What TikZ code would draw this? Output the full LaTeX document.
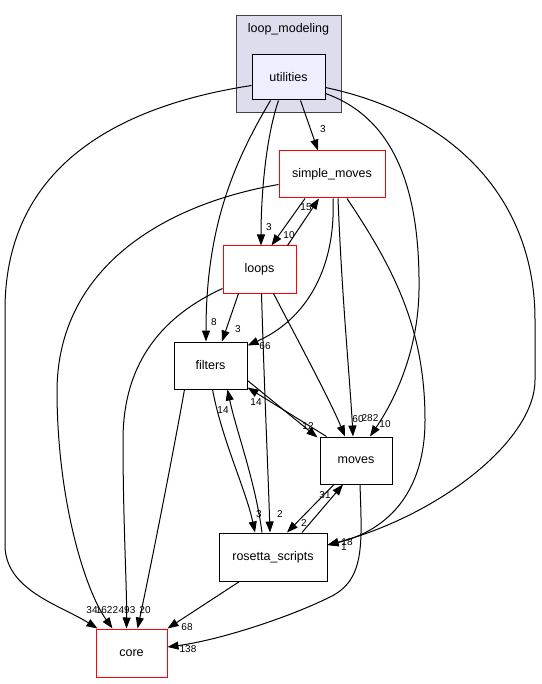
\documentclass[tikz,border=0pt]{standalone}
\usepackage{fontspec}
\setmainfont{Liberation Sans}
\usetikzlibrary{arrows.meta, calc}

\definecolor{clusterfill}{HTML}{DDDDEE}
\definecolor{clusterline}{HTML}{444444}
\definecolor{curfill}{HTML}{EEEEFF}

\begin{document}
\begin{tikzpicture}[x=1pt, y=-1pt, >={Triangle[length=11pt, width=8pt]}, line width=1pt]
    \tikzstyle{dir}=[draw, fill=white, minimum height=47pt, inner sep=0pt, font=\fontsize{12.5}{14}\selectfont]
    \tikzstyle{rdir}=[dir, draw=red]
    \tikzstyle{num}=[inner sep=0pt, font=\fontsize{10}{11}\selectfont]
    \tikzstyle{dep}=[->]

    \useasboundingbox (0,0) rectangle (541,684);

    % cluster
    \node[draw=clusterline, fill=clusterfill, minimum width=105pt, minimum height=97pt] (lm) at (288.5,64.5) {};
    \node[font=\fontsize{12.5}{14}\selectfont] (lmtitle) at (288.5,29) {loop\_modeling};

    \node[dir, fill=curfill, minimum width=73pt, minimum height=45pt] (utilities) at (288.5,77.5) {utilities};
    \node[rdir, minimum width=106pt] (simple) at (332,174.5) {simple\_moves};
    \node[rdir, minimum width=73pt] (loops) at (259.5,269.5) {loops};
    \node[dir, minimum width=73pt] (filters) at (210.5,365.5) {filters};
    \node[dir, minimum width=72pt] (moves) at (356,460.5) {moves};
    \node[dir, minimum width=108pt, minimum height=48pt] (rosetta) at (273,557) {rosetta\_scripts};
    \node[rdir, minimum width=71pt, minimum height=48pt] (core) at (131.5,653) {core};

    % utilities
    \draw[dep] ($(utilities.west)+(0,8)$) .. controls (105,108) and (5,175) .. (5,310) -- (5,545) .. controls (5,590) and (60,605) .. ($(core.north west)+(2,0)$);
    \draw[dep] ($(utilities.south)+(12,0)$) -- ($(simple.north)+(-14,0)$);
    \draw[dep] ($(utilities.south)+(-10,0)$) .. controls (265,140) and (261,200) .. ($(loops.north)+(1.5,0)$);
    \draw[dep] ($(utilities.south)+(-18,0)$) .. controls (232,165) and (206,230) .. ($(filters.north)+(-4.5,0)$);
    \draw[dep] ($(utilities.east)+(0,16)$) .. controls (400,120) and (420,200) .. (419,290) .. controls (418,360) and (388,410) .. ($(moves.north)+(14,0)$);
    \draw[dep] ($(utilities.east)+(0,10)$) .. controls (455,115) and (535,200) .. (535,320) -- (535,380) .. controls (535,440) and (440,515) .. ($(rosetta.east)+(0,-12)$);

    % simple_moves
    \draw[dep] ($(simple.west)+(0,10)$) .. controls (160,205) and (58,270) .. (57,390) .. controls (57,500) and (85,590) .. ($(core.north west)+(17,0)$);
    \draw[dep] ($(simple.south)+(-27,0)$) -- ($(loops.north)+(12,0)$);
    \draw[dep] ($(simple.south)+(1,0)$) .. controls (336,270) and (305,320) .. ($(filters.east)+(0,-20)$);
    \draw[dep] ($(simple.south)+(6,0)$) .. controls (342,300) and (350,380) .. ($(moves.north)+(-3,0)$);
    \draw[dep] ($(simple.south)+(15,0)$) .. controls (395,270) and (425,330) .. (425,420) .. controls (425,490) and (390,530) .. ($(rosetta.east)+(0,-12)$);

    % loops
    \draw[dep] ($(loops.north)+(28,0)$) -- ($(simple.south)+(-13,0)$);
    \draw[dep] ($(loops.west)+(0,19)$) .. controls (165,315) and (123,360) .. (123,440) .. controls (123,520) and (127,590) .. ($(core.north west)+(31,0)$);
    \draw[dep] ($(loops.south)+(-21,0)$) -- ($(filters.north)+(11.5,0)$);
    \draw[dep] ($(loops.south)+(14,0)$) .. controls (295,335) and (330,400) .. ($(moves.north)+(-11,0)$);
    \draw[dep] ($(loops.south)+(2,0)$) .. controls (264,380) and (268,470) .. ($(rosetta.north)+(-3,0)$);

    % filters
    \draw[dep] ($(filters.south west)+(11,0)$) .. controls (172,460) and (148,580) .. ($(core.north west)+(42,0)$);
    \draw[dep] ($(filters.east)+(0,15)$) -- ($(moves.north west)+(-2,1)$);
    \draw[dep] ($(filters.south)+(2,0)$) .. controls (222,440) and (246,490) .. ($(rosetta.north)+(-18,0)$);

    % moves
    \draw[dep] ($(moves.north west)+(7,0)$) -- ($(filters.east)+(0,22)$);
    \draw[dep] ($(moves.south)+(-22,0)$) -- ($(rosetta.north)+(14,0)$);
    \draw[dep] ($(moves.south)+(4,0)$) .. controls (362,545) and (365,580) .. (330,597) .. controls (290,617) and (220,640) .. ($(core.east)+(0,-6)$);

    % rosetta_scripts
    \draw[dep] ($(rosetta.north)+(-11,0)$) .. controls (255,480) and (236,430) .. ($(filters.south)+(17,0)$);
    \draw[dep] ($(rosetta.north)+(29,0)$) -- ($(moves.south)+(-13,0)$);
    \draw[dep] ($(rosetta.south west)+(21,0)$) -- (core.north east);

    % counts
    \node[num] (c-ut-sm) at (323,129) {3};
    \node[num] (c-ut-lo) at (269,227) {3};
    \node[num] (c-ut-fi) at (214,322) {8};
    \node[num] (c-ut-mo) at (385,424) {10};
    \node[num] (c-ut-ro) at (347,542) {18};
    \node[num] (c-sm-ro) at (344,547) {1};
    \node[num] (c-sm-lo) at (289,235) {10};
    \node[num] (c-lo-sm) at (306,207) {15};
    \node[num] (c-sm-fi) at (265,346) {66};
    \node[num] (c-lo-fi) at (238,329) {3};
    \node[num] (c-lo-mo) at (358,419) {60};
    \node[num] (c-sm-mo) at (370,418) {282};
    \node[num] (c-fi-mo) at (308,426) {12};
    \node[num] (c-mo-fi) at (256,402) {14};
    \node[num] (c-ro-fi) at (223,410) {14};
    \node[num] (c-fi-ro) at (259,514) {3};
    \node[num] (c-lo-ro) at (280,514) {2};
    \node[num] (c-mo-ro) at (304,523) {2};
    \node[num] (c-ro-mo) at (325,495) {31};
    \node[num] (c-ut-co) at (92,610) {34};
    \node[num] (c-sm-co) at (107,610) {1622};
    \node[num] (c-lo-co) at (127,610) {493};
    \node[num] (c-fi-co) at (145,610) {20};
    \node[num] (c-ro-co) at (187,627) {68};
    \node[num] (c-mo-co) at (188,649) {138};
\end{tikzpicture}
\end{document}
